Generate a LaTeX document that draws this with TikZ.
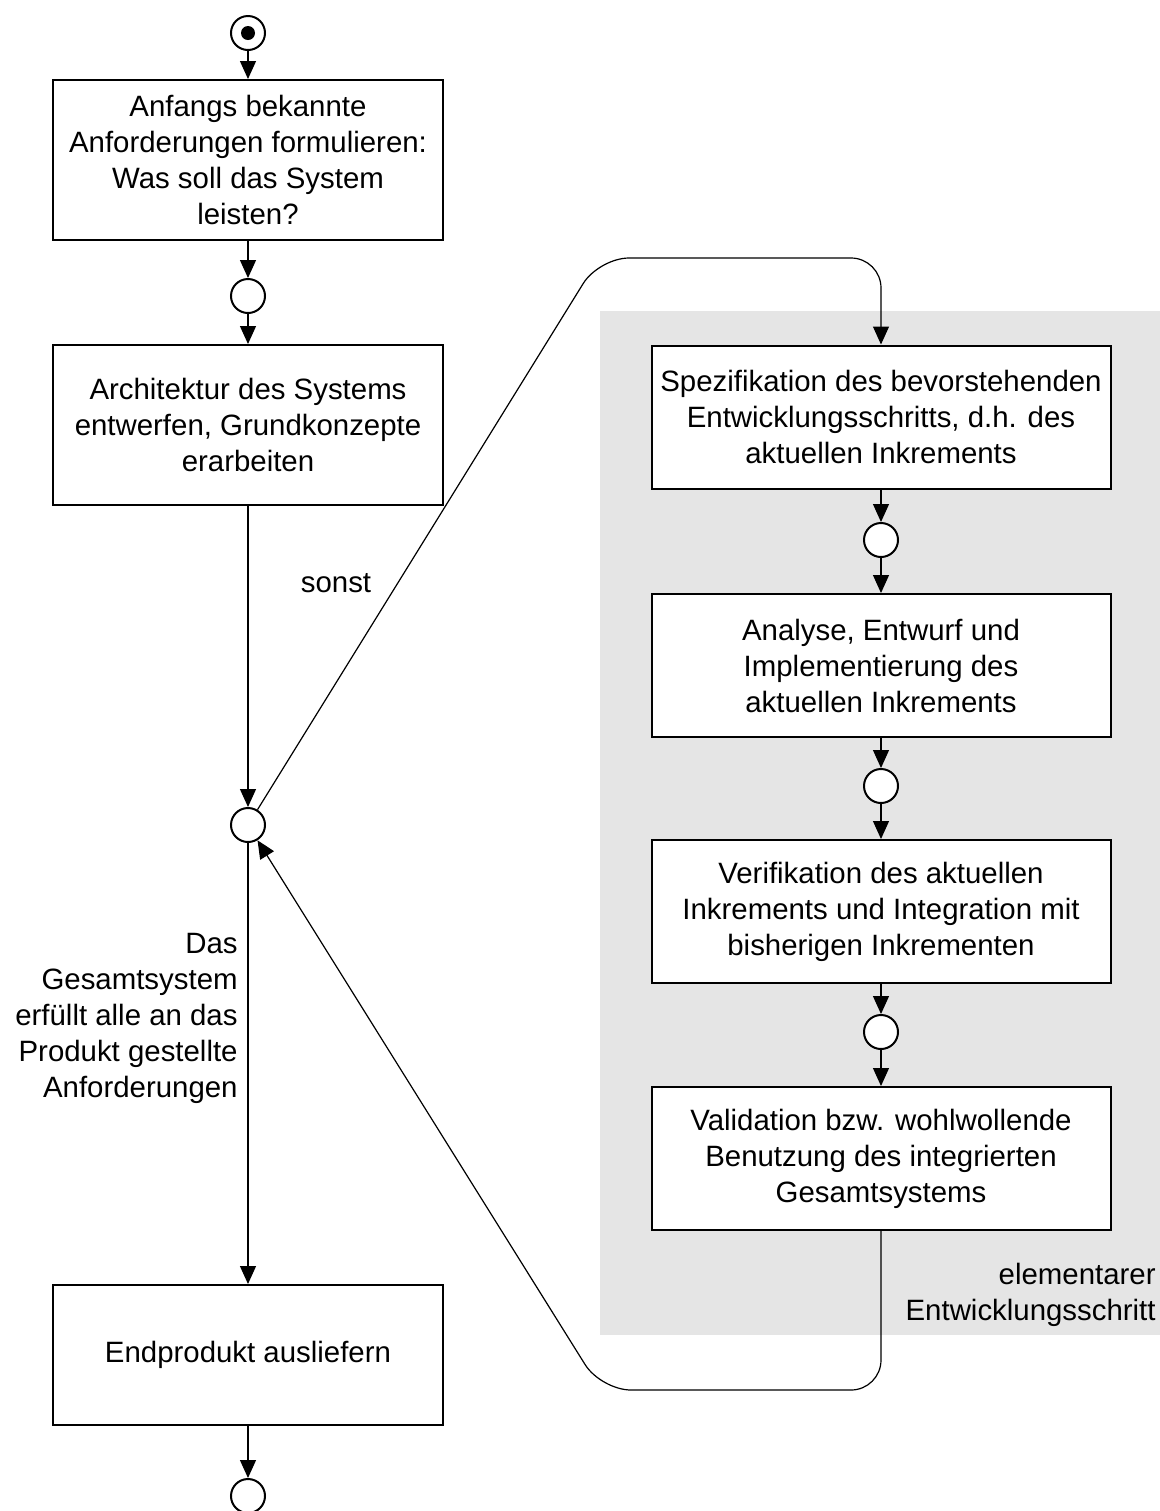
\documentclass[tikz,border=0pt]{standalone}
\usepackage{fontspec}
\setmainfont{Liberation Sans}
\usetikzlibrary{arrows.meta}

\begin{document}
\begin{tikzpicture}[x=0.5pt,y=-0.5pt,
        font=\fontsize{14.7}{18}\selectfont,
        act/.style={draw,line width=1pt,fill=white,minimum width=195pt,minimum height=80pt,align=center,inner sep=0pt},
        ract/.style={act,minimum width=229.5pt,minimum height=71.5pt},
        knot/.style={draw,circle,line width=1pt,fill=white,minimum size=17pt,inner sep=0pt},
        flow/.style={-{Triangle[length=9pt,width=8pt]},line width=0.6pt},
        lbl/.style={inner sep=0pt,align=right,anchor=east}]
        \useasboundingbox (0,0) rectangle (1160,1511);
        \fill[black!10] (600,311) rectangle (1160,1335);

        \node[knot] (start) at (248,33) {};
        \fill (start) circle[radius=3.5pt];
        \node[act] (a1) at (248,160) {Anfangs bekannte\\Anforderungen formulieren:\\Was soll das System\\leisten?};
        \node[knot] (c1) at (248,296) {};
        \node[act] (a2) at (248,425) {Architektur des Systems\\entwerfen, Grundkonzepte\\erarbeiten};
        \node[knot] (merge) at (248,825) {};
        \node[act,minimum height=70pt] (a3) at (248,1355) {Endprodukt ausliefern};
        \node[knot] (stop) at (248,1496) {};

        \node[ract] (r1) at (881,417) {Spezifikation des bevorstehenden\\Entwicklungsschritts, d.h. des\\aktuellen Inkrements};
        \node[knot] (k1) at (881,540) {};
        \node[ract] (r2) at (881,665.5) {Analyse, Entwurf und\\Implementierung des\\aktuellen Inkrements};
        \node[knot] (k2) at (881,786) {};
        \node[ract] (r3) at (881,911.5) {Verifikation des aktuellen\\Inkrements und Integration mit\\bisherigen Inkrementen};
        \node[knot] (k3) at (881,1032) {};
        \node[ract] (r4) at (881,1158.5) {Validation bzw. wohlwollende\\Benutzung des integrierten\\Gesamtsystems};

        \foreach \a/\b in {start/a1,a1/c1,c1/a2,a2/merge,merge/a3,a3/stop,r1/k1,k1/r2,r2/k2,k2/r3,r3/k3,k3/r4} {
            \draw[flow] (\a) -- (\b);
        }

        \coordinate (lt) at (599,258);
        \coordinate (rt) at (881,258);
        \coordinate (rb) at (881,1390);
        \coordinate (lb) at (601,1390);
        \draw[flow,rounded corners=15pt] (merge) -- (lt) -- (rt) -- (r1);
        \draw[flow,rounded corners=15pt] (r4) -- (rb) -- (lb) -- (merge);

        \node (sonst) at (336,583) {sonst};
        \node[lbl] (done) at (238,1018) {Das\\Gesamtsystem\\erfüllt alle an das\\Produkt gestellte\\Anforderungen};
        \node[lbl] (elem) at (1156,1295) {elementarer\\Entwicklungsschritt};
    \end{tikzpicture}
\end{document}
